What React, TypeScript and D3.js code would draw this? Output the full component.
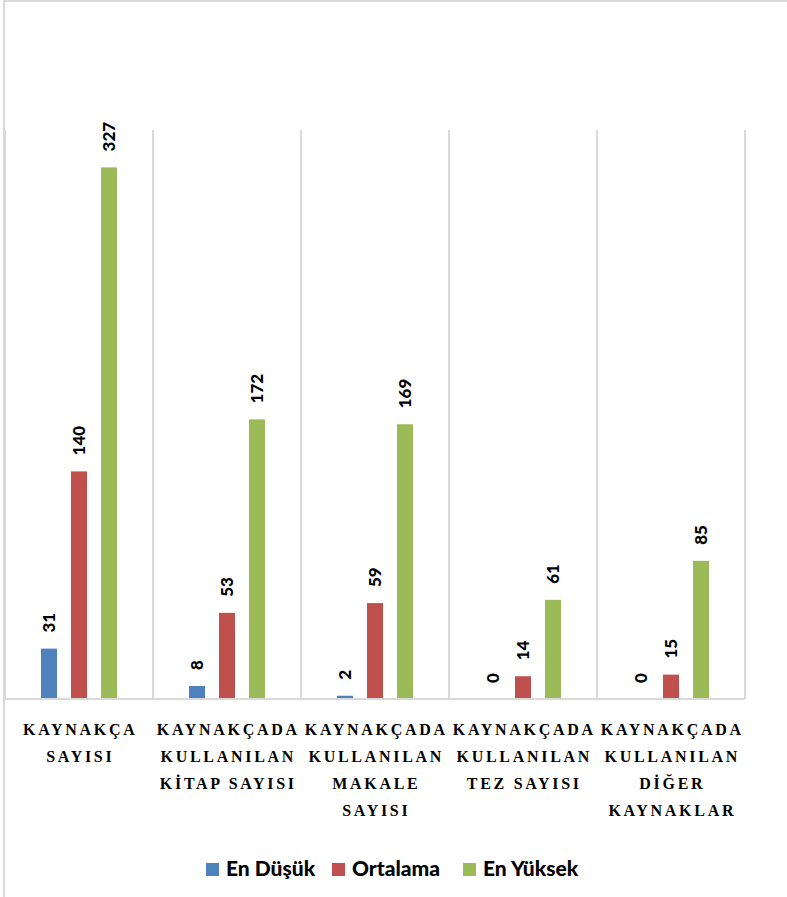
import React from 'react';
import * as d3 from 'd3';

const categories = [
  ['KAYNAKÇA', 'SAYISI'],
  ['KAYNAKÇADA', 'KULLANILAN', 'KİTAP SAYISI'],
  ['KAYNAKÇADA', 'KULLANILAN', 'MAKALE', 'SAYISI'],
  ['KAYNAKÇADA', 'KULLANILAN', 'TEZ SAYISI'],
  ['KAYNAKÇADA', 'KULLANILAN', 'DİĞER', 'KAYNAKLAR'],
];
const seriesNames = ['En Düşük', 'Ortalama', 'En Yüksek'];
const enDusuk = [31, 8, 2, 0, 0];
const ortalama = [140, 53, 59, 14, 15];
const enYuksek = [327, 172, 169, 61, 85];
const colors = ['#4F81BD', '#C0504D', '#9BBB59'];

const W = 787;
const H = 897;
const grid = '#D9D9D9';

const App = () => {
  const series = [enDusuk, ortalama, enYuksek];
  const idx = categories.map((_, i) => String(i));

  const x = d3.scaleBand().domain(idx).range([5, 745]).paddingInner(0).paddingOuter(0);
  const xs = d3
    .scaleBand()
    .domain(seriesNames)
    .range([0, x.bandwidth()])
    .paddingInner(0.467)
    .paddingOuter(1.2);
  const y = d3.scaleLinear().domain([0, 350]).range([699, 130]);

  const bounds = idx.map((k) => x(k) as number).concat([745]);

  // legend layout
  const legendX = [206, 332, 463];
  const legendY = 869;

  return (
    <svg
      width={W}
      height={H}
      style={{ position: 'absolute', left: 0, top: 0, background: '#fff' }}
    >
      <rect x={4} y={1} width={W + 10} height={H + 10} fill="#fff" stroke={grid} strokeWidth={2} />

      {/* vertical gridlines between categories */}
      {bounds.map((b, i) => (
        <line key={'g' + i} x1={b} x2={b} y1={y(350)} y2={y(0)} stroke={grid} strokeWidth={2} />
      ))}

      {/* bars */}
      {series.map((vals, s) =>
        vals.map((v, i) => {
          const bx = (x(String(i)) as number) + (xs(seriesNames[s]) as number);
          const cx = bx + xs.bandwidth() / 2;
          const top = y(v);
          return (
            <g key={`b${s}-${i}`}>
              <rect x={bx} y={top} width={xs.bandwidth()} height={y(0) - top} fill={colors[s]} />
              <text
                transform={`translate(${cx},${top - 16}) rotate(-90)`}
                dy="0.36em"
                textAnchor="start"
                fontFamily="Lato, 'Open Sans', sans-serif"
                fontWeight="900"
                fontSize={17}
                fill="#000"
              >
                {v}
              </text>
            </g>
          );
        })
      )}

      {/* baseline */}
      <line x1={5} x2={745} y1={y(0)} y2={y(0)} stroke={grid} strokeWidth={2} />

      {/* category labels */}
      {categories.map((lines, i) => {
        const cx = (x(String(i)) as number) + x.bandwidth() / 2;
        return (
          <text
            key={'c' + i}
            fontFamily="'Liberation Serif', serif"
            fontWeight="bold"
            fontSize={16}
            letterSpacing={2.7}
            textAnchor="middle"
            fill="#000"
          >
            {lines.map((l, j) => (
              <tspan key={j} x={cx + 1.3} y={735 + j * 27}>
                {l}
              </tspan>
            ))}
          </text>
        );
      })}

      {/* legend */}
      {seriesNames.map((n, s) => (
        <g key={'l' + s}>
          <rect x={legendX[s]} y={legendY - 6} width={13} height={13} fill={colors[s]} />
          <text
            x={legendX[s] + 20}
            y={legendY + 7}
            fontFamily="Lato, 'Open Sans', sans-serif"
            fontWeight="900"
            fontSize={21}
            fill="#000"
          >
            {n}
          </text>
        </g>
      ))}
    </svg>
  );
};

export default App;
